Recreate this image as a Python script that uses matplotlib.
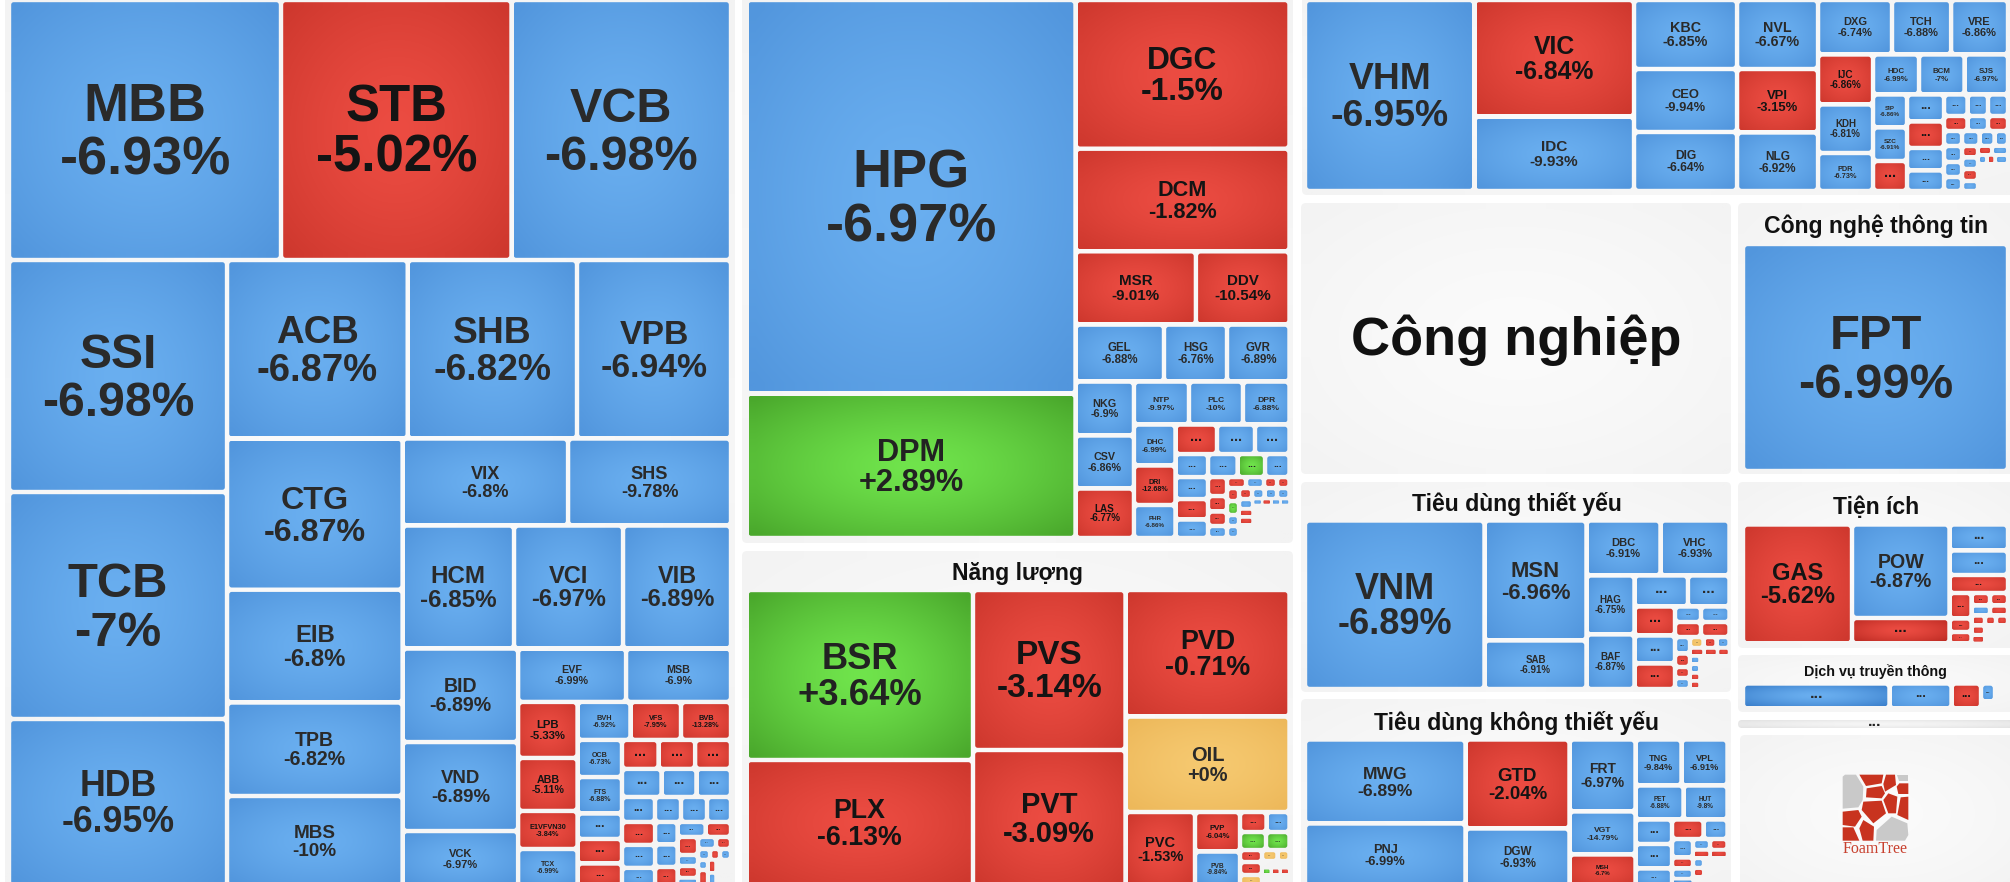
import numpy as np
import matplotlib
matplotlib.use("Agg")
import matplotlib.pyplot as plt
from matplotlib.patches import FancyBboxPatch, Polygon
from matplotlib.font_manager import FontProperties
from matplotlib.textpath import TextPath

# ------------------------------- DATA -------------------------------
# names: labelled cells, "..." marks an unlabelled one; cells past the end of a list are unlabelled too
# caps: relative size of each cell; colors: b/r/g/y, "-" = empty space
fin_names = ("MBB STB VCB SSI TCB HDB ACB SHB VPB CTG EIB TPB MBS VIX SHS HCM VCI VIB BID VND VCK EVF MSB "
             "LPB ABB E1VFVN30 TCX BVH VFS BVB OCB FTS").split()
fin_changes = [-6.93, -5.02, -6.98, -6.98, -7, -6.95, -6.87, -6.82, -6.94, -6.87, -6.8, -6.82, -10, -6.8, -9.78,
               -6.85, -6.97, -6.89, -6.89, -6.89, -6.97, -6.99, -6.9, -5.33, -5.11, -3.84, -6.99, -6.92, -7.95,
               -13.28, -6.73, -6.88]
fin_caps = [70720, 59930, 57070, 50580, 49490, 36410, 32250, 30220, 27490, 26540, 19800, 16410, 15800, 14400, 14180,
            13710, 13410, 13280, 10800, 10280, 6350, 5760, 5600, 3330, 3150, 2260, 2200, 2010, 1920, 1900, 1650, 1620,
            1130, 1090, 1000, 1060, 1060, 1040, 1110, 980, 970, 825, 650, 650, 600, 760, 760, 600, 506, 506, 428,
            420, 380, 370, 225, 246, 164, 216, 180, 132, 110, 121, 100, 160, 104, 104, 390]
fin_colors = "brb bbb bbb bbbb bb bbb bbb bb rrrb brr bbbrr rrr bbb bbbb rbb bbr br rbrb br brb br rb -"
fin_split = """
v( h(...)
 h( v(...)
  v( h(...)
   h( v(....)
    v( h(..) h(...)
     h( v(...)
      v( h(..)
       h( v(....)
        v( h(...)
         h( v(.....)
          v( h(...) h(...) h(....)
           h( v(...) v(...)
            v( h(..)
             h( v(....)
              v( h(..) h(...) h( v(..) v(..) . ) )
             )
            )
           )
          )
         )
        )
       )
      )
     )
    )
   )
  )
 )
)"""

mat_names = "HPG DPM DGC DCM MSR DDV GEL HSG GVR NKG CSV LAS NTP PLC DPR DHC DRI PHR".split()
mat_changes = [-6.97, 2.89, -1.5, -1.82, -9.01, -10.54, -6.88, -6.76, -6.89, -6.9, -6.86, -6.77, -9.97, -10, -6.88,
               -6.99, -12.68, -6.86]
mat_caps = [129500, 47500, 31820, 21960, 8825, 6860, 5040, 3590, 3560, 3150, 3100, 2890, 2365, 2320, 2000, 1700, 1640,
            1370, 1224, 1120, 1018, 750, 680, 632, 563, 715, 666, 600, 361, 295, 275, 228, 209, 198, 143, 137,
            156, 168, 132, 144, 143, 137, 137, 137, 140, 112, 112, 182, 54, 54, 54, 54, 1204]
mat_colors = "bgrrrrbbbbbrbbbbrb rbb bbgb brb rrrb rbrr rgbb rbbb brr- brbb -"
mat_split = """
h( v(..)
 v( . . h(..) h(...)
  h( v(...)
   v( h(...)
    h( v(...)
     v( h(...) h(....)
      h( v(...)
       h( v(....)
        v( h(....)
         h( v(....)
          v( h(....)
           h( v(....) v( h(....) . ) )
          )
         )
        )
       )
      )
     )
    )
   )
  )
 )
)"""

ene_names = "BSR PLX PVS PVT PVD OIL PVC PVP PVB".split()
ene_changes = [3.64, -6.13, -3.14, -3.09, -0.71, 0, -1.53, -6.04, -9.84]
ene_caps = [38500, 28540, 24400, 20740, 20760, 15650, 5140, 1780, 1550, 530, 460, 468, 423, 264, 286, 242, 170, 132,
            192, 63, 63, 66, 302]
ene_colors = "grrrryrrb rb gg rry yy - grr -"
ene_split = "h( v(..) v(..) v( . . h( . v(..) v( h(..) h(..) h( v(...) v( h(..) . h(...) . ) ) ) ) ) )"

est_names = "VHM VIC IDC KBC CEO DIG NVL VPI NLG DXG TCH VRE IJC KDH PDR HDC BCM SJS SIP SZC".split()
est_changes = [-6.95, -6.84, -9.93, -6.85, -9.94, -6.64, -6.67, -3.15, -6.92, -6.74, -6.88, -6.86, -6.86, -6.81,
               -6.73, -6.99, -7, -6.97, -6.86, -6.91]
est_caps = [32340, 18640, 11870, 7110, 6490, 6080, 5590, 5140, 4740, 4030, 3220, 3100, 2750, 2670, 2090, 1840, 1820,
            1740, 1120, 1140, 1020, 1000, 980, 833, 760, 505, 440, 430, 352, 308, 300, 270, 262, 225, 202, 288, 270,
            252, 184, 184, 192, 160, 126, 144, 81, 72, 117, 810]
est_colors = "brbbbbbrbbbbrbbbbbbbr brbb bbb rbr bbbb bbb rbrb rb brb -"
est_split = """
h( . v(..) v(...) v(...)
 v( h(...)
  h( v(...)
   v( h(...)
    h( v(...) v(....)
     v( h(...) h(...) h(....)
      h( v(...) v(....) v( h(..) h(...) . ) )
     )
    )
   )
  )
 )
)"""

sta_names = "VNM MSN SAB DBC VHC HAG BAF".split()
sta_changes = [-6.89, -6.96, -6.91, -6.91, -6.93, -6.75, -6.87]
sta_caps = [30250, 12240, 4950, 4070, 3795, 2830, 2620, 1660, 1290, 1175, 1134, 1033, 403, 442, 390, 428, 248, 202, 165,
            165, 149, 143, 143, 112, 108, 96, 80, 90, 80, 80, 973]
sta_colors = "bbbbbbb bb rbr bb rr brrb yrb rrr bbrr -"
sta_split = """
h( . v(..)
 v( h(..)
  h( v(..)
   v( h(..)
    h( v(...)
     v( h(..) h(..)
      h( v(....) v( h(...) h(...) h( v(....) . ) ) )
     )
    )
   )
  )
 )
)"""

dis_names = "MWG PNJ GTD DGW FRT VGT MSH TNG VPL PET HUT".split()
dis_changes = [-6.89, -6.99, -2.04, -6.93, -6.97, -14.79, -6.7, -9.84, -6.91, -6.88, -9.8]
dis_caps = [13480, 10030, 9256, 5980, 4750, 2840, 2080, 2116, 2116, 1632, 1496, 894, 894, 640, 614, 468, 388, 231, 220,
            147, 187, 192, 136, 140, 110, 99, 99, 658]
dis_colors = "bb rb bbr bbbb bbb rb brbb br rr br- -"
dis_split = """
h( v(..) v(..) v(...)
 v( h(..) h(..)
  h( v(...)
   v( h(..)
    h( v(....)
     v( h(..) h(..) h( v(...) . ) )
    )
   )
  )
 )
)"""

uti_names = ["GAS", "POW"]
uti_changes = [-5.62, -6.87]
uti_caps = [12970, 9116, 2486, 1521, 1433, 1053, 561, 297, 253, 231, 225, 185, 180, 135, 128, 115, 110, 120, 414]
uti_colors = "rbr bbr rrr rr br rrr rr -"
uti_split = "h( . v(..) v( . . . h( v(...) v( h(..) h(..) h( v(...) v( h(..) . ) ) ) ) ) )"

tel_names = []
tel_changes = []
tel_caps = [3662, 1550, 737, 252, 98, 325]
tel_colors = "bbrb--"
tel_split = "h( . . . v(..) . )"

tec_names = ["FPT"]
tec_changes = [-6.99]
tec_caps = [1]
tec_colors = "b"
tec_split = "."

panel_titles = ["Năng lượng", "Công nghệ thông tin", "Tiêu dùng thiết yếu", "Tiêu dùng không thiết yếu", "Tiện ích",
                "Dịch vụ truyền thông"]
big_title = "Công nghiệp"
logo_text = "FoamTree"

# ------------------------------ STYLES ------------------------------
W, H = 2010, 882
PALETTE = {"b": ((106, 175, 240), (82, 150, 221)),
           "r": ((236, 76, 66), (206, 56, 46)),
           "g": ((112, 228, 76), (74, 168, 44)),
           "y": ((246, 201, 112), (237, 184, 90)),
           "panel": ((251, 251, 251), (243, 243, 243)),
           "bar": ((246, 246, 246), (226, 226, 226)),
           "b+": ((106, 175, 240), (60, 128, 204)),
           "r+": ((236, 76, 66), (190, 44, 36))}
TEXT = {"b": "#2a2a2a", "r": "#141414", "g": "#222222", "y": "#2a2a2a"}
FONT = "Liberation Sans"
fp = FontProperties(family=FONT, weight="bold")
PX = 0.72  # points per pixel at 100 dpi

xx, yy = np.meshgrid(np.linspace(-1, 1, 24), np.linspace(-1, 1, 24))
RAD = (np.sqrt(xx ** 2 + yy ** 2) / np.sqrt(2)) ** 1.4
GRAD = {k: (np.array(c)[None, None, :] + (np.array(e) - np.array(c))[None, None, :] * RAD[..., None]) / 255
        for k, (c, e) in PALETTE.items()}

fig = plt.figure(figsize=(W / 100, H / 100), dpi=100, facecolor="white")
ax = fig.add_axes([0, 0, 1, 1])
ax.set_xlim(0, W)
ax.set_ylim(H, 0)
ax.axis("off")
ax.set_autoscale_on(False)


def box(x0, y0, x1, y1, key, radius, zorder):
    patch = FancyBboxPatch((x0 + radius, y0 + radius), x1 - x0 - 2 * radius, y1 - y0 - 2 * radius,
                           boxstyle=f"round,pad={radius},rounding_size={radius}", fc="none", ec="none", zorder=zorder)
    ax.add_patch(patch)
    im = ax.imshow(GRAD[key], extent=(x0, x1, y1, y0), origin="upper", aspect="auto",
                   interpolation="bilinear", zorder=zorder)
    im.set_clip_path(patch)
    return patch


def parse(spec):
    """Turn 'h( . v(..) )' into a nested tree whose leaves take the cell indices in order."""
    tokens = [c for c in spec if not c.isspace()]
    pos, leaf = 0, 0

    def node():
        nonlocal pos, leaf
        t = tokens[pos]
        if t == ".":
            pos += 1
            leaf += 1
            return leaf - 1
        direction = t
        pos += 2
        kids = []
        while tokens[pos] != ")":
            kids.append(node())
        pos += 1
        return direction, kids

    tree = node()
    return tree, leaf


def total(n, caps):
    return caps[n] if isinstance(n, int) else sum(total(k, caps) for k in n[1])


def place(n, rect, caps, out):
    if isinstance(n, int):
        out[n] = rect
        return
    x0, y0, x1, y1 = rect
    direction, kids = n
    s = total(n, caps)
    cur = x0 if direction == "h" else y0
    for k in kids:
        share = total(k, caps) / s
        if direction == "h":
            nxt = cur + (x1 - x0) * share
            place(k, (cur, y0, nxt, y1), caps, out)
        else:
            nxt = cur + (y1 - y0) * share
            place(k, (x0, cur, x1, nxt), caps, out)
        cur = nxt


def em_width(s):
    return TextPath((0, 0), s, size=100, prop=fp).get_extents().width / 100


def fmt(v):
    return f"{v:+g}%"


def treemap(names, changes, caps, colors, split, region):
    colors = colors.replace(" ", "")
    tree, n = parse(split)
    assert n == len(caps) == len(colors), (n, len(caps), len(colors))
    names = list(names) + ["..."] * (n - len(names))
    rects = {}
    place(tree, region, caps, rects)
    vals = iter(changes)
    for i in range(n):
        lab = names[i]
        ch = next(vals) if lab != "..." else None
        if colors[i] == "-":
            continue
        x0, y0, x1, y1 = rects[i]
        inset = min(2.2, 0.22 * min(x1 - x0, y1 - y0))
        x0, y0, x1, y1 = x0 + inset, y0 + inset, x1 - inset, y1 - inset
        w, h = x1 - x0, y1 - y0
        short, long_ = min(w, h), max(w, h)
        key = colors[i]
        if long_ / short >= 4 and key + "+" in GRAD:
            key += "+"
        box(x0, y0, x1, y1, key, min(2.5, 0.3 * short), 3)
        cx, cy = (x0 + x1) / 2, (y0 + y1) / 2
        col = TEXT[colors[i]]
        if ch is None:
            if short >= 6:
                f = min(16, 0.5 * short * (1 + 0.1 * min(7, long_ / short)))
                ax.text(cx, cy + 0.1 * f, "...", fontsize=f * PX, ha="center", va="baseline", color=col,
                        family=FONT, weight="bold", zorder=4)
            continue
        pct = fmt(ch)
        f = min(54, 0.22 * h, 0.70 * w / max(em_width(lab), em_width(pct)))
        ax.text(cx, cy - 0.17 * f, lab, fontsize=f * PX, ha="center", va="baseline", color=col,
                family=FONT, weight="bold", zorder=4)
        ax.text(cx, cy + 0.82 * f, pct, fontsize=f * PX, ha="center", va="baseline", color=col,
                family=FONT, weight="bold", zorder=4)


# panels behind the treemaps
for x0, y0, x1, y1 in [(5, -10, 735, 892), (742, -10, 1293, 543), (742, 551, 1293, 892), (1302, -10, 2020, 195),
                       (1301, 203, 1731, 474), (1738, 203, 2020, 474), (1301, 482, 1731, 692),
                       (1301, 699, 1731, 892), (1738, 482, 2020, 648), (1738, 655, 2020, 712),
                       (1740, 735, 2020, 892)]:
    box(x0, y0, x1, y1, "panel", 5, 1)
box(1738, 720, 2020, 728, "bar", 4, 1)
ax.text(1875, 726, "...", fontsize=16 * PX, ha="center", va="baseline", color="#222222", family=FONT, weight="bold",
        zorder=4)

treemap(fin_names, fin_changes, fin_caps, fin_colors, fin_split, (9, 0, 731, 886))
treemap(mat_names, mat_changes, mat_caps, mat_colors, mat_split, (746.5, 0, 1289.5, 538))
treemap(ene_names, ene_changes, ene_caps, ene_colors, ene_split, (746.5, 590, 1289.5, 886))
treemap(est_names, est_changes, est_caps, est_colors, est_split, (1305, 0, 2008, 191))
treemap(sta_names, sta_changes, sta_caps, sta_colors, sta_split, (1305, 520.5, 1729.5, 689))
treemap(dis_names, dis_changes, dis_caps, dis_colors, dis_split, (1305, 739.5, 1727.5, 886))
treemap(uti_names, uti_changes, uti_caps, uti_colors, uti_split, (1743, 524.5, 2008, 643.5))
treemap(tel_names, tel_changes, tel_caps, tel_colors, tel_split, (1743, 683.5, 2008, 708.5))
treemap(tec_names, tec_changes, tec_caps, tec_colors, tec_split, (1743, 244, 2008, 471))

# titles
for title, cx, base, size in zip(panel_titles,
                                 [1018, 1876, 1517, 1517, 1876, 1875],
                                 [580, 233, 511, 730, 514, 676],
                                 [23, 23, 23, 23, 23, 14.3]):
    ax.text(cx, base, title, fontsize=size * PX, ha="center", va="baseline", color="#111111", family=FONT,
            weight="bold", zorder=4)
ax.text(1516, 355, big_title, fontsize=54 * PX, ha="center", va="baseline", color="#111111", family=FONT,
        weight="bold", zorder=4)

# FoamTree logo
LOGO_GRAY = [[(68, 50), (75, 44), (108, 44), (130, 80), (128, 120), (115, 142), (68, 146)],
             [(232, 44), (265, 44), (265, 62), (238, 62)],
             [(215, 170), (262, 190), (265, 225), (255, 242), (168, 242), (170, 210)]]
LOGO_RED = [[(118, 44), (190, 44), (185, 70), (138, 78)],
            [(198, 44), (225, 44), (228, 75), (195, 95), (190, 72)],
            [(238, 70), (265, 70), (265, 102), (235, 102), (230, 80)],
            [(140, 85), (185, 78), (195, 100), (185, 115), (138, 112)],
            [(205, 100), (232, 110), (228, 160), (205, 160), (190, 120)],
            [(242, 112), (265, 110), (265, 180), (232, 165)],
            [(130, 125), (185, 122), (198, 160), (160, 190), (125, 150)],
            [(68, 155), (115, 150), (125, 170), (105, 200), (68, 195)],
            [(68, 202), (100, 202), (118, 242), (68, 242)],
            [(130, 180), (162, 200), (160, 242), (128, 242), (118, 205)]]
for polys, col in ((LOGO_GRAY, "#c9c9c9"), (LOGO_RED, "#c8331f")):
    for pts in polys:
        ax.add_patch(Polygon([(1820 + p / 3, 760 + q / 3) for p, q in pts], closed=True, fc=col, ec="none",
                             joinstyle="round", zorder=3))
ax.text(1875, 853, logo_text, fontsize=16 * PX, ha="center", va="baseline", color="#c8412f",
        family="Liberation Serif", zorder=4)

fig.savefig("out.png", dpi=100)
